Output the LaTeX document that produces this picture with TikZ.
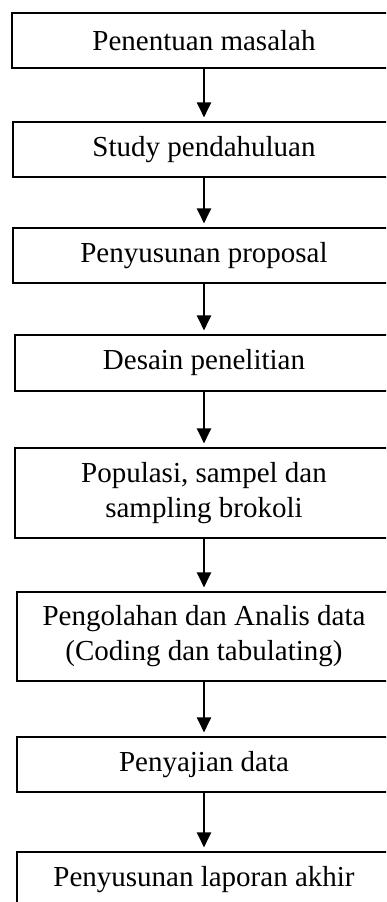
\documentclass[tikz,border=0pt]{standalone}
\usepackage{fontspec}
\setmainfont{Liberation Serif}
\usetikzlibrary{arrows.meta}

\begin{document}
\begin{tikzpicture}[x=1pt, y=-1pt,
    stepbox/.style={draw, line width=1.1pt, minimum height=55pt, align=center,
        inner sep=0pt, font=\fontsize{29}{35}\selectfont},
    flow/.style={-{Triangle[width=14pt,length=15pt]}, line width=2pt, shorten >=4pt}]
    % Page frame, the boxes run off the right edge
    \useasboundingbox (0,0) rectangle (386,902);
    \clip (0,0) rectangle (386,902);

    % Steps of the research
    \node[stepbox, minimum width=384pt] (b1) at (204,40.5) {Penentuan masalah};
    \node[stepbox, minimum width=382pt] (b2) at (204,149.5) {Study pendahuluan};
    \node[stepbox, minimum width=382pt] (b3) at (204,255.5) {Penyusunan proposal};
    \node[stepbox, minimum width=378pt, minimum height=56pt] (b4) at (204,363) {Desain penelitian};
    \node[stepbox, minimum width=378pt, minimum height=90pt] (b5) at (204,493) {Populasi, sampel dan\\ sampling brokoli};
    \node[stepbox, minimum width=374pt, minimum height=89pt] (b6) at (204,636.5) {Pengolahan dan Analis data\\ (Coding dan tabulating)};
    \node[stepbox, minimum width=374pt] (b7) at (204,764.5) {Penyajian data};
    \node[stepbox, minimum width=374pt] (b8) at (204,879.5) {Penyusunan laporan akhir};

    % Arrows between the steps
    \foreach \a/\b in {b1/b2, b2/b3, b3/b4, b4/b5, b5/b6, b6/b7, b7/b8}
        \draw[flow] (\a.south) -- (\b.north);
\end{tikzpicture}
\end{document}
